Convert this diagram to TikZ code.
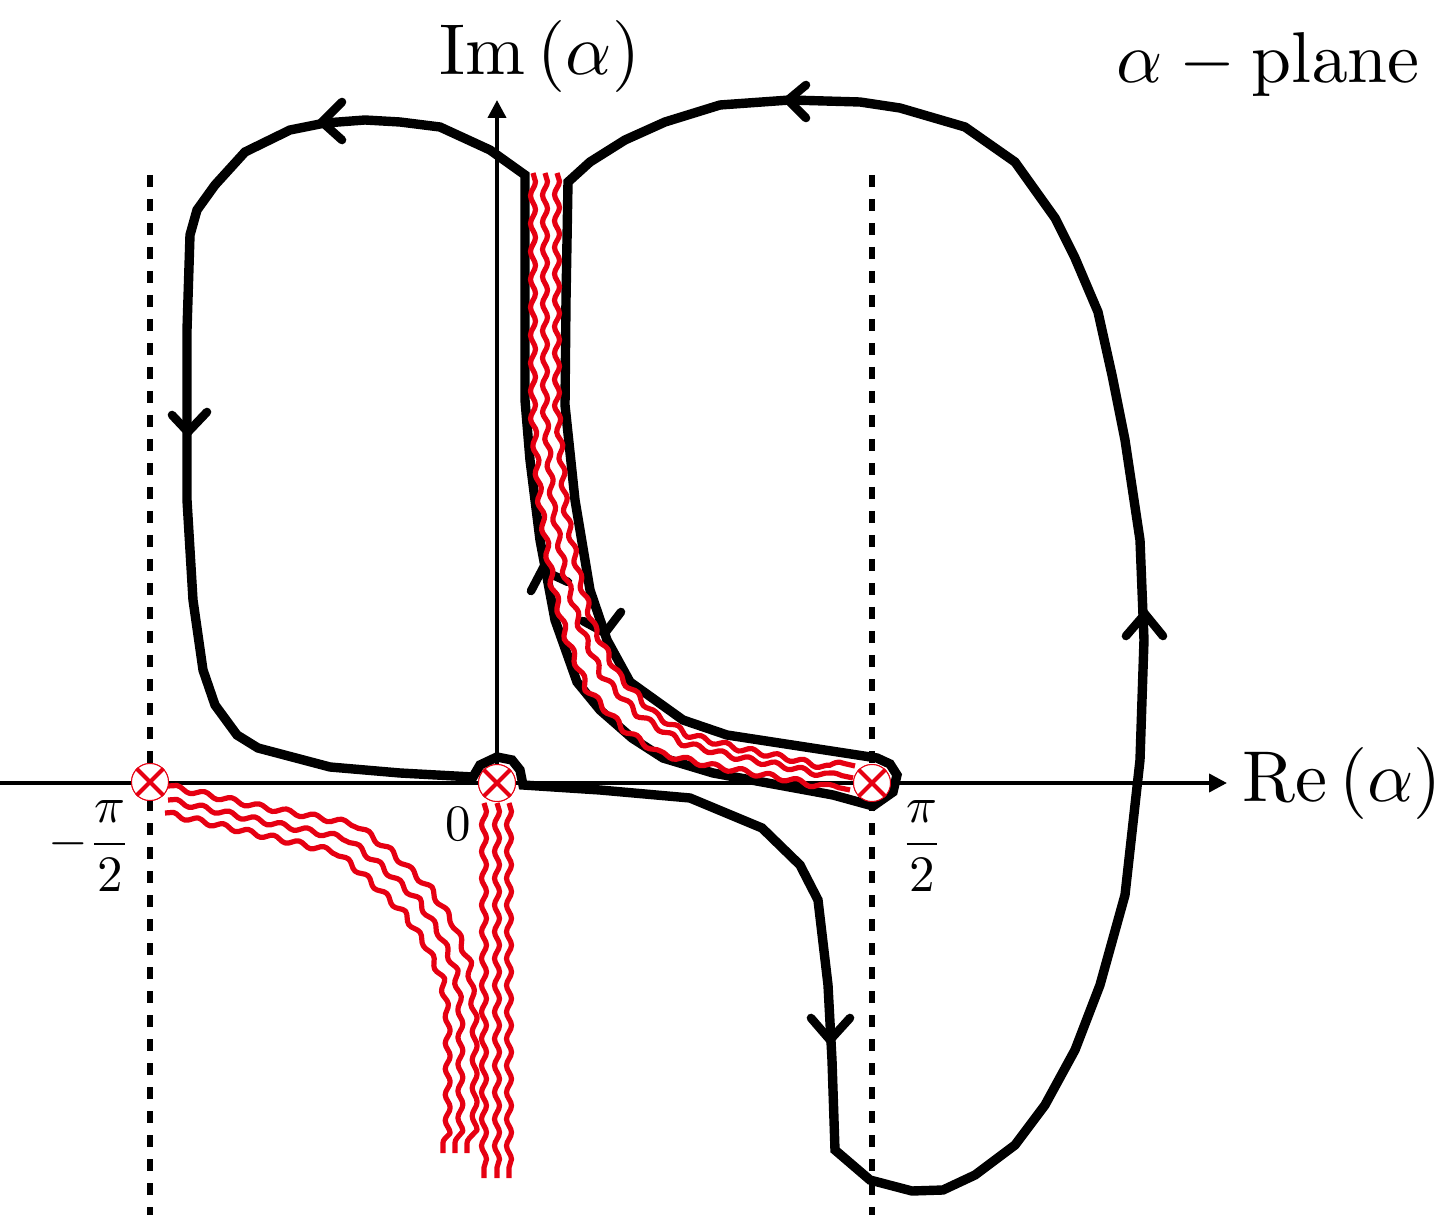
\documentclass[tikz,border=0pt]{standalone}
\usetikzlibrary{arrows.meta,decorations.pathmorphing}
\definecolor{cutred}{RGB}{230,0,18}
\tikzset{
  axisline/.style={line width=2pt,-{Triangle[length=9pt,width=9pt]}},
  guide/.style={line width=3pt,dash pattern=on 6pt off 6pt},
  contour/.style={line width=4.7pt,line join=miter,miter limit=6},
  chevron/.style={line width=4.3pt,line cap=round,line join=miter},
  wave/.style={cutred,line width=2.6pt,line join=round,decorate,decoration={snake,segment length=#1,amplitude=1.25pt,pre length=0pt,post length=0pt}},
  branch/.style={circle,draw=cutred,fill=white,line width=.5pt,minimum size=18.5pt,inner sep=0pt},
  branchx/.style={cutred,line width=2pt},
  biglabel/.style={inner sep=0pt,scale=3.6},
  smalllabel/.style={inner sep=0pt,scale=2.55},
}
\begin{document}
\begin{tikzpicture}[x=.5pt,y=-.5pt]
\useasboundingbox (0,0) rectangle (1448,1230);
\coordinate (xstart) at (0,783);
\coordinate (xend) at (1227,783);
\coordinate (yend) at (497,100);
\coordinate (gl1) at (150,175);
\coordinate (gl2) at (150,1215);
\coordinate (gr1) at (872,175);
\coordinate (gr2) at (872,1215);
\node[branch] (bl) at (150,782) {};
\node[branch] (bc) at (497,783) {};
\node[branch] (br) at (872,783) {};
% axes and guides
\draw[axisline] (xstart) -- (xend);
\draw[axisline] (bc.center) -- (yend);
\draw[guide] (gl1) -- (gl2);
\draw[guide] (gr1) -- (gr2);
% contour
\draw[contour] (525,175) -- (490,150) -- (440,127) -- (400,122) -- (365,120) -- (325,123) -- (290,130) -- (245,152) -- (215,185) -- (197,210) -- (190,235) -- (187,330) -- (187,500) -- (193,600) -- (203,670) -- (215,705) -- (237,735) -- (258,748) -- (330,767) -- (400,773) -- (473,777)
 -- (480,765) -- (497,757) -- (512,760) -- (520,770) -- (523,785)
 -- (600,790) -- (690,798) -- (762,828) -- (800,865) -- (818,900) -- (828,985) -- (832,1060) -- (835,1150) -- (870,1180) -- (912,1191) -- (943,1190) -- (975,1175) -- (1015,1145) -- (1045,1105) -- (1075,1050) -- (1100,985) -- (1125,895) -- (1140,760) -- (1144,640) -- (1140,540) -- (1125,440) -- (1112,375) -- (1098,312) -- (1075,258) -- (1055,218) -- (1015,162) -- (965,127) -- (900,108) -- (860,102) -- (790,100) -- (720,105) -- (665,122) -- (625,140) -- (590,162) -- (568,182)
 -- (566,300) -- (565,405) -- (575,500) -- (590,590) -- (607,640) -- (630,682) -- (683,720) -- (727,735) -- (877,758) -- (890,764) -- (897,775) -- (893,792) -- (873,806) -- (833,795) -- (713,773) -- (663,758) -- (632,738) -- (600,710) -- (577,682) -- (555,620) -- (540,540) -- (530,460) -- (525,400) -- cycle;
% arrowheads
\draw[chevron] (342,102) -- (322,122) -- (342,140);
\draw[chevron] (806,85) -- (788,100) -- (806,118);
\draw[chevron] (172,415) -- (188,432) -- (207,412);
\draw[chevron] (1126,636) -- (1145,614) -- (1163,636);
\draw[chevron] (811,1018) -- (830,1040) -- (850,1018);
\draw[chevron] (531,591) -- (542,570) -- (568,582);
\draw[chevron] (583,621) -- (605,633) -- (621,612);
% branch cuts
\draw[wave=14.03pt] (168,786) -- (257,806) -- (354,824) -- (384,847) -- (420,881) -- (446,920) -- (462,960) -- (467,1010) -- (467,1153);
\draw[wave=13.41pt] (168,800) -- (257,820) -- (345,838) -- (375,862) -- (411,895) -- (434,931) -- (450,968) -- (455,1010) -- (455,1153);
\draw[wave=12.88pt] (165,813) -- (257,834) -- (336,852) -- (364,876) -- (400,910) -- (422,942) -- (438,975) -- (443,1010) -- (443,1153);
\draw[wave=13.38pt] (484,803) -- (484,1178);
\draw[wave=13.38pt] (497,803) -- (497,1178);
\draw[wave=13.38pt] (509,803) -- (509,1178);
\draw[wave=13.95pt] (533,173) -- (533,405) -- (541,500) -- (552,573) -- (567,630) -- (590,687) -- (625,725) -- (665,752) -- (720,765) -- (783,776) -- (850,790);
\draw[wave=13.58pt] (545,173) -- (545,405) -- (553,500) -- (566,573) -- (581,625) -- (603,675) -- (638,713) -- (680,740) -- (730,753) -- (787,764) -- (853,778);
\draw[wave=13.22pt] (557,173) -- (557,405) -- (565,500) -- (580,573) -- (594,622) -- (616,665) -- (650,702) -- (692,728) -- (740,741) -- (790,751) -- (855,766);
% branch points
\node[branch] at (bl) {};
\node[branch] at (bc) {};
\node[branch] at (br) {};
\foreach \b in {bl,bc,br}{
  \draw[branchx] (\b.north west) -- (\b.south east);
  \draw[branchx] (\b.north east) -- (\b.south west);
}
% labels
\node[biglabel] (imlabel) at (540,57) {$\mathrm{Im}\,(\alpha)$};
\node[biglabel] (relabel) at (1342,783) {$\mathrm{Re}\,(\alpha)$};
\node[biglabel] (planelabel) at (1268,65) {$\alpha-\mathrm{plane}$};
\node[smalllabel] (zero) at (458,824) {$0$};
\node[smalllabel] (mpi) at (90,846) {$\displaystyle-\frac{\pi}{2}$};
\node[smalllabel] (ppi) at (922,846) {$\displaystyle\frac{\pi}{2}$};
\end{tikzpicture}
\end{document}
